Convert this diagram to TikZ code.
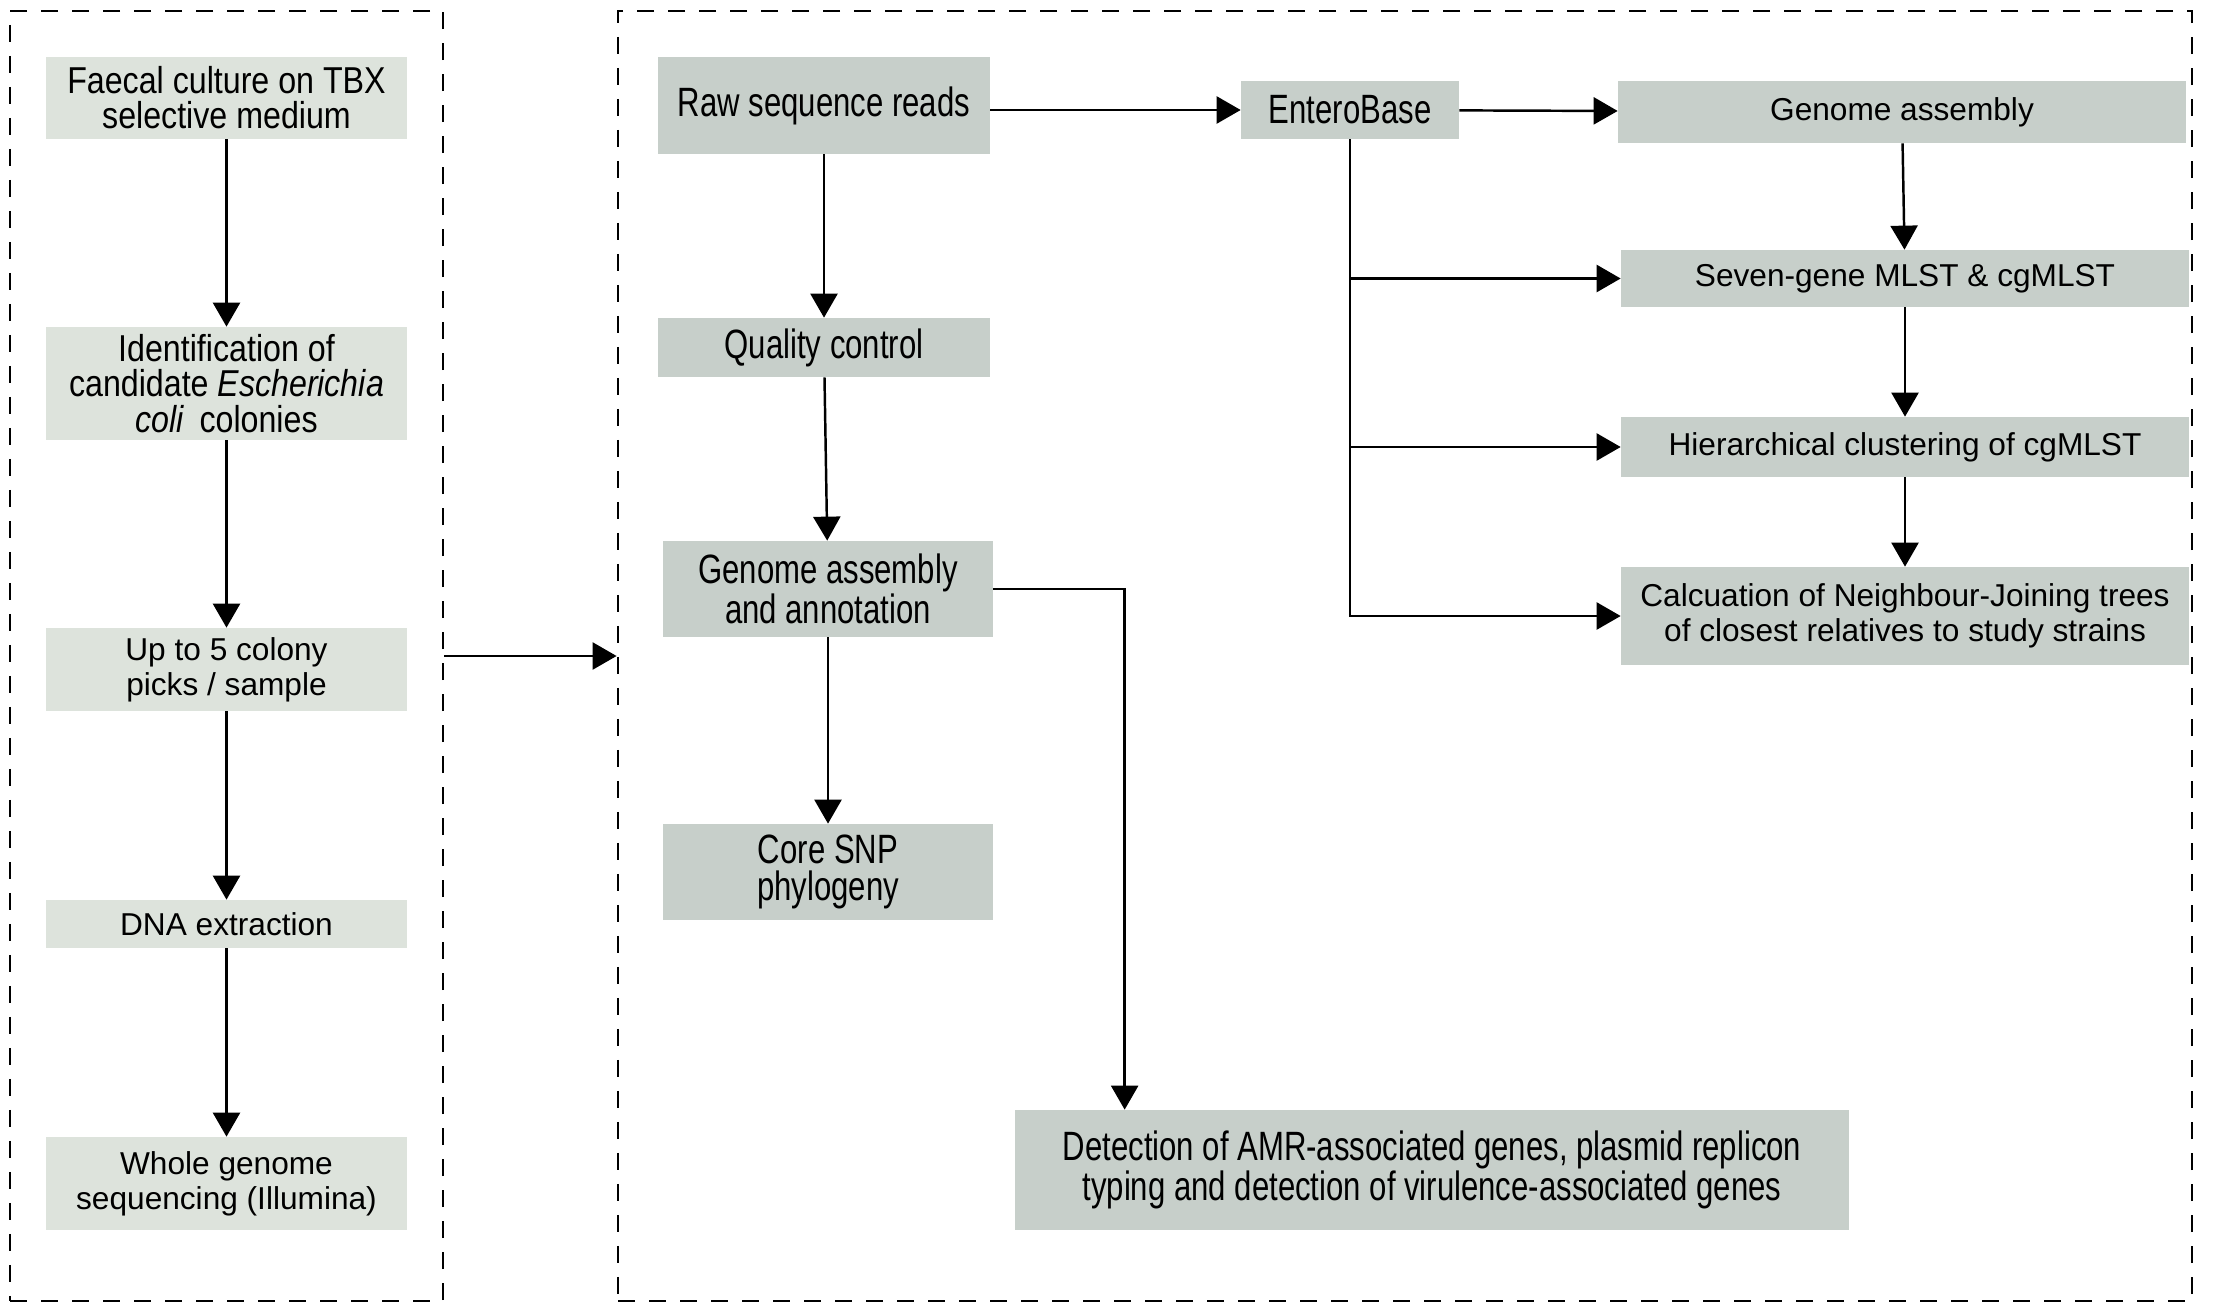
\documentclass[tikz,border=0pt]{standalone}
\usepackage{fontspec}
\setmainfont{Liberation Sans}
\newfontfamily\condA[FakeStretch=0.86]{Liberation Sans}
\newfontfamily\condB[FakeStretch=0.76]{Liberation Sans}
\usetikzlibrary{positioning, calc, arrows.meta}
\definecolor{samplebg}{RGB}{221,227,220}
\definecolor{seqbg}{RGB}{199,207,202}
\tikzstyle{frame} = [rectangle, draw=black, line width=1.6pt, dash pattern=on 0.34cm off 0.28cm, inner sep=0pt]
\tikzstyle{sample} = [rectangle, fill=samplebg, minimum width=7.22cm, inner sep=2pt, text centered]
\tikzstyle{seq} = [rectangle, fill=seqbg, inner sep=2pt, text centered]
\tikzstyle{plain} = [font=\fontsize{18}{20}\selectfont]
\tikzstyle{narrowa} = [font=\condA\fontsize{21.3}{20}\selectfont]
\tikzstyle{narrowb} = [font=\condB\fontsize{23.3}{21.5}\selectfont]
\tikzstyle{arrow} = [-{Triangle[length=0.48cm,width=0.54cm]}, line width=1.4pt]

\begin{document}
\begin{tikzpicture}[node distance=5cm, align=center]
  \useasboundingbox (0,0) rectangle (44.78,-26.1);
  % frames
  \node (sampling) [frame, minimum width=8.66cm, minimum height=25.8cm] at (4.53,-13.12) {};
  \node (analysis) [frame, minimum width=31.48cm, minimum height=25.8cm] at (28.1,-13.12) {};

  % sampling steps
  \node (faecal) [sample, narrowa, minimum height=1.64cm] at (4.53,-1.96) {Faecal culture on TBX \\ selective medium};
  \node (ident) [sample, narrowa, minimum height=2.26cm, below of=faecal, yshift=-0.71cm] {Identification of \\ candidate \textit{Escherichia} \\ \textit{coli}\, colonies};
  \node (picks) [sample, plain, minimum height=1.66cm, below of=ident, yshift=-0.72cm] {Up to 5 colony \\ picks / sample};
  \node (dna) [sample, plain, minimum height=0.96cm, below of=picks, yshift=-0.09cm] {DNA extraction};
  \node (wgs) [sample, plain, minimum height=1.86cm, below of=dna, yshift=-0.19cm] {Whole genome \\ sequencing (Illumina)};

  % analysis steps
  \node (raw) [seq, narrowb, minimum width=6.64cm, minimum height=1.94cm] at (16.48,-2.11) {Raw sequence reads};
  \node (qc) [seq, narrowb, minimum width=6.64cm, minimum height=1.18cm, below of=raw, yshift=0.16cm] {Quality control};
  \node (gaa) [seq, narrowb, minimum width=6.6cm, minimum height=1.92cm, below of=qc, yshift=0.17cm, xshift=0.08cm] {Genome assembly \\ and annotation};
  \node (snp) [seq, narrowb, minimum width=6.6cm, minimum height=1.92cm, below of=gaa, yshift=-0.66cm] {Core SNP \\ phylogeny};
  \node (detect) [seq, narrowb, minimum width=16.68cm, minimum height=2.4cm, below of=snp, yshift=-0.96cm, xshift=12.08cm] {Detection of AMR-associated genes, plasmid replicon \\ typing and detection of virulence-associated genes};
  \node (entero) [seq, narrowb, minimum width=4.36cm, minimum height=1.16cm, right of=raw, xshift=5.52cm, yshift=-0.09cm] {EnteroBase};
  \node (ga) [seq, plain, minimum width=11.36cm, minimum height=1.24cm, right of=entero, xshift=6.04cm, yshift=-0.04cm] {Genome assembly};
  \node (mlst) [seq, plain, minimum width=11.36cm, minimum height=1.14cm, below of=ga, yshift=1.67cm, xshift=0.06cm] {Seven-gene MLST \& cgMLST};
  \node (hier) [seq, plain, minimum width=11.36cm, minimum height=1.2cm, below of=mlst, yshift=1.63cm] {Hierarchical clustering of cgMLST};
  \node (nj) [seq, plain, minimum width=11.36cm, minimum height=1.96cm, below of=hier, yshift=1.62cm] {Calcuation of Neighbour-Joining trees \\ of closest relatives to study strains};

  % connectors
  \draw [arrow](faecal) -- (ident);
  \draw [arrow](ident) -- (picks);
  \draw [arrow](picks) -- (dna);
  \draw [arrow](dna) -- (wgs);
  \draw [arrow](sampling.east) -- (analysis.west);
  \draw [arrow](raw) -- (qc);
  \draw [arrow](qc) -- (gaa);
  \draw [arrow](gaa) -- (snp);
  \draw [arrow](gaa.east) -| ($(detect.north west) + (2.2,0)$);
  \draw [arrow](raw.east |- entero) -- (entero);
  \draw [arrow](entero) -- (ga);
  \draw [arrow](ga) -- (mlst);
  \draw [arrow](mlst) -- (hier);
  \draw [arrow](hier) -- (nj);
  \draw [arrow](entero.south) |- (mlst.west);
  \draw [arrow](entero.south) |- (hier.west);
  \draw [arrow](entero.south) |- (nj.west);
\end{tikzpicture}
\end{document}
